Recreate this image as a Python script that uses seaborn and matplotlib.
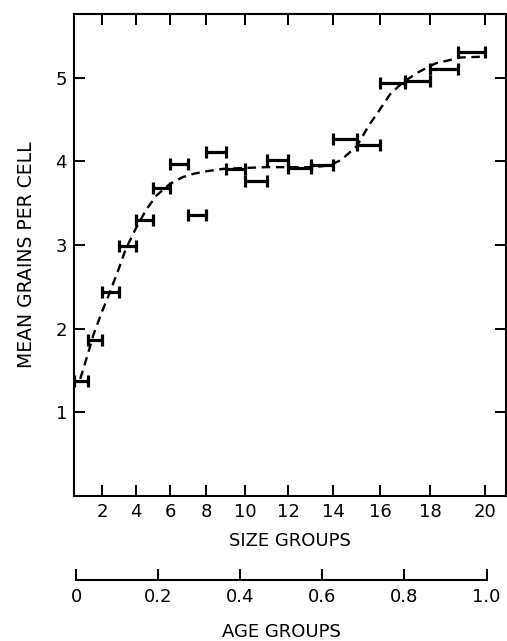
import numpy as np
import pandas as pd
import matplotlib
matplotlib.use("Agg")
import matplotlib.pyplot as plt
import seaborn as sns

# size groups 1..20, each bar covers one group (from i-1 to i)
size_groups = np.arange(1, 21)
mean_grains = [1.37, 1.87, 2.44, 2.99, 3.30, 3.68, 3.97, 3.36, 4.11, 3.91,
               3.76, 4.02, 3.92, 3.95, 4.27, 4.20, 4.93, 4.96, 5.10, 5.31]

# dashed fitted curve (size units, grains)
curve_size = [0.45, 1.0, 1.4, 2.0, 2.4, 3.0, 3.4, 4.0, 4.6, 5.2, 6.0, 6.7, 7.3,
              8.0, 8.9, 10.0, 11.0, 12.0, 13.0, 13.5, 13.9, 14.3, 14.6, 15.0,
              15.2, 15.5, 15.9, 16.2, 16.4, 16.9, 17.5, 18.2, 19.1, 19.9]
curve_grains = [1.40, 1.70, 1.93, 2.20, 2.40, 2.72, 2.95, 3.20, 3.42, 3.59,
                3.73, 3.81, 3.85, 3.88, 3.91, 3.92, 3.93, 3.93, 3.93, 3.94,
                3.96, 4.01, 4.08, 4.18, 4.27, 4.42, 4.58, 4.71, 4.80, 4.94,
                5.06, 5.17, 5.24, 5.25]

# size group -> age (fraction of cycle)
knot_size = [0, 2, 4, 6, 8, 10, 12, 14, 16, 18, 20, 22]
knot_age = [-0.005, 0.063, 0.146, 0.229, 0.317, 0.412, 0.517, 0.627,
            0.741, 0.863, 0.998, 1.13]

size_ticks = [2, 4, 6, 8, 10, 12, 14, 16, 18, 20]
grain_ticks = [1, 2, 3, 4, 5]
age_ticks = [0, 0.2, 0.4, 0.6, 0.8, 1.0]
age_labels = ["0", "0.2", "0.4", "0.6", "0.8", "1.0"]


def size_to_age(s):
    return np.interp(s, knot_size, knot_age)


def age_to_size(a):
    return np.interp(a, knot_age, knot_size)


sns.set_style("ticks")
plt.rcParams["font.family"] = ["DejaVu Sans"]
plt.rcParams["font.size"] = 13
for key in ["text.color", "axes.labelcolor", "xtick.color", "ytick.color",
            "axes.edgecolor"]:
    plt.rcParams[key] = "black"

fig = plt.figure(figsize=(5.07, 6.41), dpi=100)
ax = fig.add_axes([74 / 507, 145 / 641, 432 / 507, 482 / 641])
ax.set_xscale("function", functions=(size_to_age, age_to_size))

df = pd.DataFrame({"size": size_groups - 0.5, "grains": mean_grains})
ax.errorbar(df["size"], df["grains"], xerr=0.5, fmt="none", ecolor="black",
            elinewidth=2.3, capsize=4.5, capthick=2.3)

curve = pd.DataFrame({"size": curve_size, "grains": curve_grains})
sns.lineplot(data=curve, x="size", y="grains", ax=ax, color="black",
             linewidth=1.7, linestyle=(0, (3.6, 2.4)), sort=False)

ax.set_xlim(0, 20.76)
ax.set_ylim(0, 5.76)
ax.set_xticks(size_ticks)
ax.set_xticklabels([str(t) for t in size_ticks])
ax.set_yticks(grain_ticks)
ax.set_yticklabels([str(t) for t in grain_ticks])
ax.minorticks_off()
ax.tick_params(axis="x", direction="in", length=8, width=1.4, top=True,
               pad=5, labelsize=13)
ax.tick_params(axis="y", direction="in", length=8, width=1.4, right=True,
               pad=5, labelsize=13)
for sp in ax.spines.values():
    sp.set_visible(True)
    sp.set_linewidth(1.5)
ax.set_xlabel("SIZE GROUPS", fontsize=13, labelpad=8)
ax.set_ylabel("MEAN GRAINS PER CELL", fontsize=13.5, labelpad=14)

# age axis underneath
ax2 = fig.add_axes([76 / 507, 61 / 641, 410.5 / 507, 0.0005])
ax2.set_xlim(0, 1.0)
ax2.set_ylim(0, 1)
ax2.set_yticks([])
ax2.set_xticks(age_ticks)
ax2.set_xticklabels(age_labels)
for name in ["top", "left", "right"]:
    ax2.spines[name].set_visible(False)
ax2.spines["bottom"].set_linewidth(1.5)
ax2.tick_params(axis="x", direction="in", length=8, width=1.4, pad=6,
                labelsize=13)
ax2.patch.set_visible(False)
ax2.set_xlabel("AGE GROUPS", fontsize=13, labelpad=12)

fig.savefig("out.png", dpi=100)
